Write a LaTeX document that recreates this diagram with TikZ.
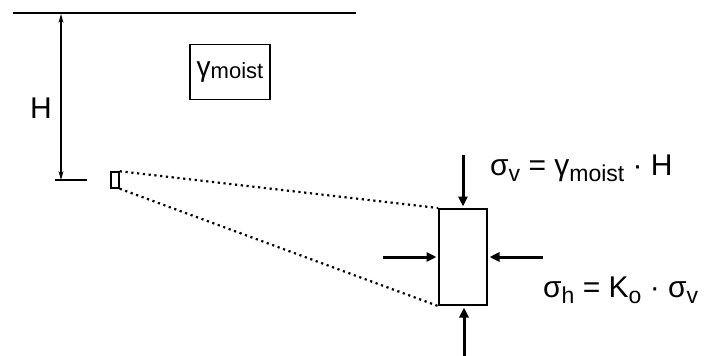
\documentclass[tikz,border=0pt]{standalone}
\usepackage{fontspec}
\setmainfont{Liberation Sans}
\usetikzlibrary{arrows.meta,positioning}
\newcommand{\low}[1]{\raisebox{-6pt}{\fontsize{23}{25}\selectfont #1}}

\begin{document}
\begin{tikzpicture}[x=1pt,y=-1pt]
\tikzstyle{every node}=[inner sep=0pt, font=\fontsize{30}{32}\selectfont];
\tikzstyle{load}=[line width=3pt, shorten >=1.5pt, -{Triangle[length=10pt,width=9pt]}];
\tikzstyle{ray}=[line width=2.2pt, dash pattern=on 2.2pt off 3.6pt];
\useasboundingbox (0,0) rectangle (705,356);

\draw (13,13) coordinate (g1);
\draw (356,13) coordinate (g2);
\draw (61,14) coordinate (d1);
\draw (61,180) coordinate (d2);
\draw (55,180) coordinate (t1);
\draw (87,180) coordinate (t2);

\draw (41,108) node (hlab) {H};
\draw (230,72) node[draw, line width=1.5pt, minimum width=80pt, minimum height=55pt] (soil)
  {\fontsize{28}{30}\selectfont γ\raisebox{-2pt}{\fontsize{22}{24}\selectfont moist}};

\draw (115,180) node[draw, line width=1.5pt, minimum width=8pt, minimum height=16pt] (pt) {};
\draw (463,257) node[draw, line width=2pt, minimum width=48pt, minimum height=96pt] (elem) {};

\draw (463,155) coordinate (v1);
\draw (464,356) coordinate (v2);
\draw (383,257) coordinate (h1);
\draw (543,257) coordinate (h2);

\draw (490,175) node[anchor=base west] (sv) {σ\low{v} = γ\low{moist} · H};
\draw (543,297) node[anchor=base west] (sh) {σ\low{h} = K\low{o} · σ\low{v}};

\draw[line width=1.6pt] (g1) -- (g2);
\draw[line width=1.6pt] (t1) -- (t2);
\draw[line width=1.1pt, {Stealth[length=9pt,width=5pt]}-{Stealth[length=9pt,width=5pt]}] (d1) -- (d2);

\draw[ray] (pt.north east) -- (elem.north west);
\draw[ray] (pt.south east) -- (elem.south west);

\draw[load] (v1) -- (elem.north);
\draw[load] (v2) -- (v2 |- elem.south);
\draw[load] (h1) -- (elem.west);
\draw[load] (h2) -- (elem.east);

\end{tikzpicture}
\end{document}
